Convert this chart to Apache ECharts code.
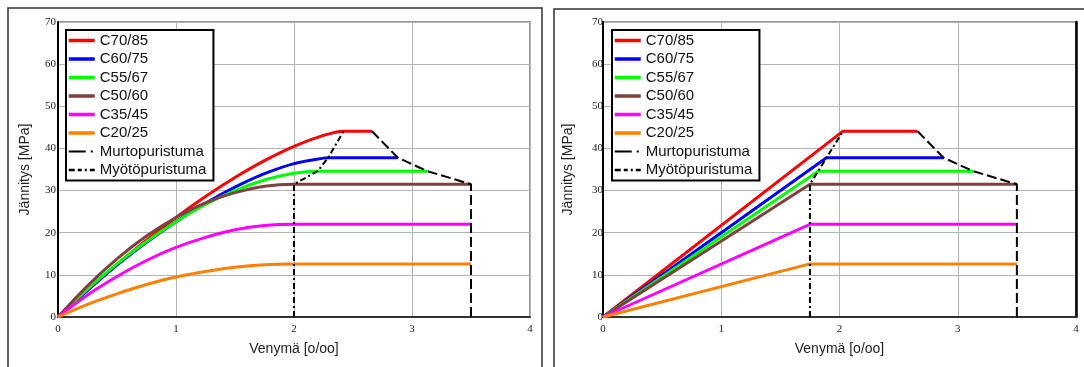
<!DOCTYPE html>
<html>
<head>
<meta charset="utf-8">
<style>
  html, body { margin: 0; padding: 0; background: #fff; }
  #chart { width: 1084px; height: 367px; }
</style>
<script src="https://cdn.jsdelivr.net/npm/echarts@6/dist/echarts.min.js"></script>
</head>
<body>
<div id="chart"></div>
<script>
// Betoniluokat ja mitoituslujuudet (luettu kuvasta)
const classes = ['C70/85', 'C60/75', 'C55/67', 'C50/60', 'C35/45', 'C20/25']
const colors = ['#ff0000', '#0000ff', '#00ff00', '#804040', '#ff00ff', '#ff8000']
const fcd = [44.1, 37.8, 34.6, 31.5, 22.0, 12.6]
const epsC2 = [2.42, 2.29, 2.2, 2.0, 2.0, 2.0]   // paraabelin huippu
const epsC3 = [2.03, 1.89, 1.82, 1.75, 1.75, 1.75] // bilineaarinen myötö
const epsCu = [2.66, 2.88, 3.13, 3.5, 3.5, 3.5]  // murtopuristuma

// paraabeliosan pisteet
const strainPts = [0, 0.25, 0.5, 0.75, 1, 1.25, 1.5, 1.75, 2, 2.25]
const sigC70 = [0, 6.4, 12.5, 18.2, 23.6, 28.6, 33.1, 37.1, 40.5, 43.1]
const sigC60 = [0, 6.3, 12.3, 17.7, 22.6, 27.0, 30.8, 34.0, 36.4, 37.7]
const sigC55 = [0, 6.6, 12.6, 17.9, 22.6, 26.7, 30.0, 32.5, 34.1]
const sigC50 = [0, 7.4, 13.8, 19.2, 23.6, 27.1, 29.5, 31.0]
const sigC35 = [0, 5.2, 9.6, 13.4, 16.5, 18.9, 20.7, 21.7]
const sigC20 = [0, 3.0, 5.5, 7.7, 9.5, 10.8, 11.8, 12.4]
const rises = [sigC70, sigC60, sigC55, sigC50, sigC35, sigC20]

const murtoName = 'Murtopuristuma'
const myotoName = 'Myötöpuristuma'

const chart = echarts.init(document.getElementById('chart'))

const tickFont = { fontFamily: 'Liberation Serif', fontSize: 11, color: '#222' }
const nameFont = { fontFamily: 'Liberation Sans', fontSize: 14, color: '#222' }

const grids = [
  { left: 58, top: 22, width: 472, height: 295 },
  { left: 603, top: 22, width: 473, height: 295 }
]

const xAxes = grids.map((g, i) => ({
  type: 'value', gridIndex: i, min: 0, max: 4, interval: 1,
  name: 'Venymä [o/oo]', nameLocation: 'middle', nameGap: 25, nameTextStyle: nameFont,
  axisLine: { lineStyle: { color: '#333', width: 2 } },
  axisTick: { show: false },
  axisLabel: { ...tickFont, margin: 7 },
  splitLine: { lineStyle: { color: '#b4b4b4', width: 1 } }
}))

const yAxes = grids.map((g, i) => ({
  type: 'value', gridIndex: i, min: 0, max: 70, interval: 10,
  name: 'Jännitys [MPa]', nameLocation: 'middle', nameGap: i === 0 ? 26 : 28, nameTextStyle: nameFont,
  axisLine: { show: true, lineStyle: { color: '#000', width: 2 } },
  axisTick: { show: false },
  axisLabel: { ...tickFont, margin: i === 0 ? 2 : 0 },
  splitLine: { lineStyle: { color: '#b4b4b4', width: 1 } }
}))
// oikean kuvan oikea reuna
yAxes.push({
  type: 'value', gridIndex: 1, min: 0, max: 70, position: 'right',
  axisLine: { show: true, lineStyle: { color: '#000', width: 2.5 } },
  axisTick: { show: false }, axisLabel: { show: false }, splitLine: { show: false }
})

const series = []
classes.forEach((name, k) => {
  // vasen: paraabeli-suorakaide
  const left = rises[k].map((v, i) => [strainPts[i], v])
  left.push([epsC2[k], fcd[k]])
  left.push([epsCu[k], fcd[k]])
  series.push({
    name, type: 'line', xAxisIndex: 0, yAxisIndex: 0, data: left,
    smooth: 0.3, symbol: 'none', z: 3,
    lineStyle: { color: colors[k], width: 3 }, itemStyle: { color: colors[k] }
  })
  // oikea: bilineaarinen
  series.push({
    name, type: 'line', xAxisIndex: 1, yAxisIndex: 1,
    data: [[0, 0], [epsC3[k], fcd[k]], [epsCu[k], fcd[k]]],
    symbol: 'none', z: 3,
    lineStyle: { color: colors[k], width: 3 }, itemStyle: { color: colors[k] }
  })
})

const order = [3, 2, 1, 0] // C50 -> C70
const murtoData = [[3.5, 0]].concat(order.map(k => [epsCu[k], fcd[k]]))
const myotoLeft = [[2.0, 0]].concat(order.map(k => [epsC2[k], fcd[k]]))
const myotoRight = [[1.75, 0]].concat(order.map(k => [epsC3[k], fcd[k]]))

const murtoStyle = { color: '#000', width: 2, type: [10, 4] }
const myotoStyle = { color: '#000', width: 2, type: [6, 3, 2, 3] }

;[0, 1].forEach(i => {
  series.push({
    name: murtoName, type: 'line', xAxisIndex: i, yAxisIndex: i, data: murtoData,
    symbol: 'none', z: 4, lineStyle: murtoStyle, itemStyle: { color: '#000' }
  })
  series.push({
    name: myotoName, type: 'line', xAxisIndex: i, yAxisIndex: i,
    data: i === 0 ? myotoLeft : myotoRight,
    symbol: 'none', z: 4, lineStyle: myotoStyle, itemStyle: { color: '#000' }
  })
})

const legendData = classes.map(n => ({ name: n, lineStyle: { width: 3.5 } })).concat([
  { name: murtoName, lineStyle: { width: 2, type: [17, 5, 2, 3] } },
  { name: myotoName, lineStyle: { width: 2.5, type: [6, 3, 4, 3, 2, 3] } }
])

const legends = [66, 612].map(x => ({
  left: x, top: 30, orient: 'vertical', selectedMode: false,
  backgroundColor: '#fff', borderColor: '#000', borderWidth: 2,
  padding: [3, 7, 3, 1], itemWidth: 26, itemHeight: 15, itemGap: 3.5,
  itemStyle: { opacity: 0 },
  textStyle: { fontFamily: 'Liberation Sans', fontSize: 15, color: '#111' },
  data: legendData
}))

const option = {
  animation: false,
  grid: grids.map(g => ({ ...g, show: true, borderColor: '#777', borderWidth: 1.5, backgroundColor: 'transparent' })),
  xAxis: xAxes,
  yAxis: yAxes,
  legend: legends,
  series,
  graphic: [
    { type: 'rect', shape: { x: 8, y: 8, width: 534, height: 420 }, style: { fill: 'none', stroke: '#333', lineWidth: 1.5 }, silent: true },
    { type: 'rect', shape: { x: 554, y: 9, width: 600, height: 420 }, style: { fill: 'none', stroke: '#333', lineWidth: 1.5 }, silent: true }
  ]
}

chart.setOption(option)
</script>
</body>
</html>
